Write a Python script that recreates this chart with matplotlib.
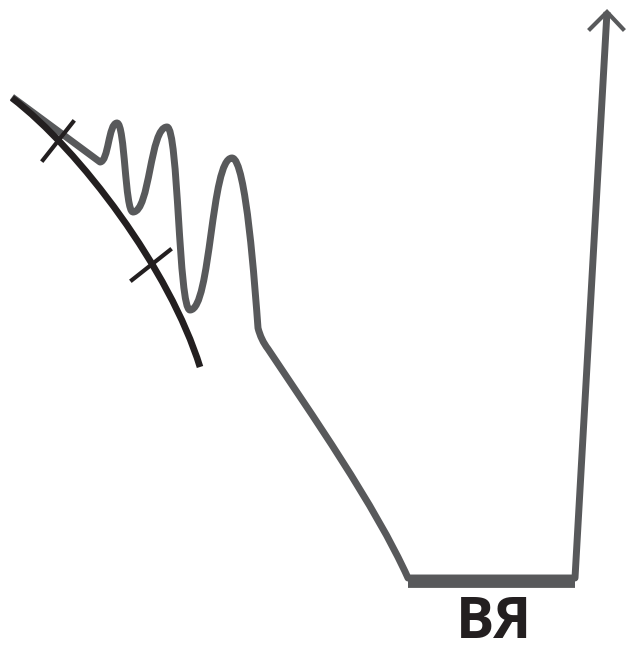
import numpy as np
import matplotlib.pyplot as plt
from matplotlib.path import Path
import matplotlib.patches as patches

# colours
gray = '#58595b'
black = '#231f20'

# gray trace: oscillation extremes (x, y in picture pixels, y down)
osc_x = [100, 117, 133, 167, 190, 232]
osc_y = [162, 123, 212, 127, 310, 158]
# start of trace and the tail after the oscillations
start_pt = (12, 97)
knee_in = (258, 328)
knee_ctrl = (261, 340)
knee_out = (268, 349)
slope_ctrl = [(310, 412), (375, 505)]
floor_x = [408, 575]
floor_y = 578
arrow_tip = (607, 12)

# black arc (cubic bezier) and its two cross ticks
arc_pts = [(12, 98), (80, 150), (170, 270), (200, 367)]
tick_segs = [((43, 160), (73, 122)), ((132, 280), (170, 250))]

label = 'ВЯ'

fig = plt.figure(figsize=(6.26, 6.52), dpi=100)
ax = fig.add_axes([0, 0, 1, 1])
ax.set_xlim(0, 626)
ax.set_ylim(652, 0)
ax.axis('off')

# build the gray path
verts = [start_pt, (osc_x[0], osc_y[0])]
codes = [Path.MOVETO, Path.LINETO]
for i in range(len(osc_x) - 1):
    x0, y0 = osc_x[i], osc_y[i]
    x1, y1 = osc_x[i + 1], osc_y[i + 1]
    k = 0.5 * (x1 - x0)
    verts += [(x0 + k, y0), (x1 - k, y1), (x1, y1)]
    codes += [Path.CURVE4] * 3
# down from last peak to the knee
verts += [(osc_x[-1] + 14, osc_y[-1]), (knee_in[0] - 3, knee_in[1] - 40), knee_in]
codes += [Path.CURVE4] * 3
verts += [knee_ctrl, knee_out]
codes += [Path.CURVE3] * 2
# long slope to floor
verts += [slope_ctrl[0], slope_ctrl[1], (floor_x[0], floor_y)]
codes += [Path.CURVE4] * 3
verts += [(floor_x[1], floor_y), arrow_tip]
codes += [Path.LINETO, Path.LINETO]
ax.add_patch(patches.PathPatch(Path(verts, codes), fill=False, edgecolor=gray,
                               lw=5, joinstyle='round', capstyle='butt'))

# thicker floor bar
ax.plot(floor_x, [floor_y + 4, floor_y + 4], color=gray, lw=8.5, solid_capstyle='butt')

# open arrow head
ax.plot([arrow_tip[0] - 17, arrow_tip[0], arrow_tip[0] + 16],
        [arrow_tip[1] + 17, arrow_tip[1], arrow_tip[1] + 17],
        color=gray, lw=3, solid_joinstyle='miter')

# black arc
arc = Path(arc_pts, [Path.MOVETO, Path.CURVE4, Path.CURVE4, Path.CURVE4])
ax.add_patch(patches.PathPatch(arc, fill=False, edgecolor=black, lw=4.8, capstyle='butt'))
for (a, b) in tick_segs:
    ax.plot([a[0], b[0]], [a[1], b[1]], color=black, lw=3)

ax.text(494, 623, label, ha='center', va='center', fontsize=41,
        fontweight='bold', family=['Open Sans', 'DejaVu Sans'], color=black)

fig.savefig('out.png', dpi=100)
